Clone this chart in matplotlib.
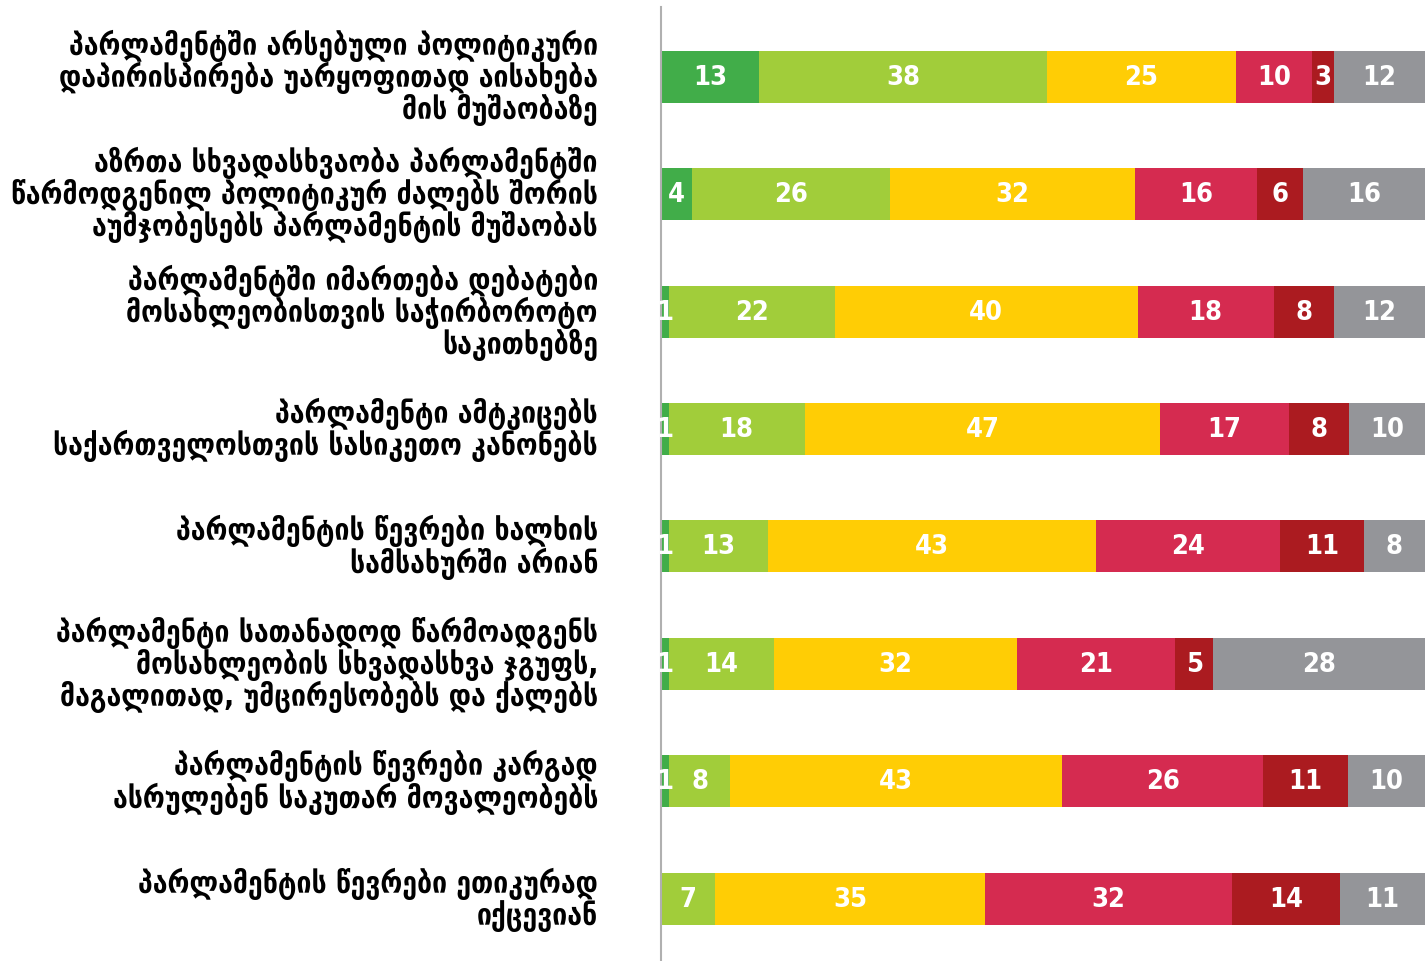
import matplotlib
matplotlib.use("Agg")
import matplotlib.pyplot as plt
import numpy as np

categories = [
    "პარლამენტში არსებული პოლიტიკური\nდაპირისპირება უარყოფითად აისახება\nმის მუშაობაზე",
    "აზრთა სხვადასხვაობა პარლამენტში\nწარმოდგენილ პოლიტიკურ ძალებს შორის\nაუმჯობესებს პარლამენტის მუშაობას",
    "პარლამენტში იმართება დებატები\nმოსახლეობისთვის საჭირბოროტო\nსაკითხებზე",
    "პარლამენტი ამტკიცებს\nსაქართველოსთვის სასიკეთო კანონებს",
    "პარლამენტის წევრები ხალხის\nსამსახურში არიან",
    "პარლამენტი სათანადოდ წარმოადგენს\nმოსახლეობის სხვადასხვა ჯგუფს,\nმაგალითად, უმცირესობებს და ქალებს",
    "პარლამენტის წევრები კარგად\nასრულებენ საკუთარ მოვალეობებს",
    "პარლამენტის წევრები ეთიკურად\nიქცევიან",
]

fully_agree    = [13, 4, 1, 1, 1, 1, 1, 0]
agree          = [38, 26, 22, 18, 13, 14, 8, 7]
neutral        = [25, 32, 40, 47, 43, 32, 43, 35]
disagree       = [10, 16, 18, 17, 24, 21, 26, 32]
fully_disagree = [3, 6, 8, 8, 11, 5, 11, 14]
dont_know      = [12, 16, 12, 10, 8, 28, 10, 11]

series = [fully_agree, agree, neutral, disagree, fully_disagree, dont_know]
colors = ["#41ad49", "#a1cd3a", "#ffcd05", "#d52b50", "#ab1b20", "#949599"]

fig = plt.figure(figsize=(14.25, 9.62), dpi=100)
ax = fig.add_axes([661/1425, 0, 1 - 661/1425, 1 - 8/962])

data = np.array(series, dtype=float)
totals = data.sum(axis=0)
y = np.arange(len(categories))
left = np.zeros(len(categories))
for vals, col in zip(data, colors):
    w = vals / totals * 100
    ax.barh(y, w, left=left, height=0.443, color=col, edgecolor="none")
    for i in range(len(categories)):
        if vals[i] > 0:
            ax.text(left[i] + w[i] / 2, y[i], f"{int(vals[i])}", ha="center", va="center",
                    color="white", fontsize=19.5, fontweight="bold",
                    family="DejaVu Sans", fontstretch="condensed")
    left += w

ax.set_xlim(0, 100)
ax.set_ylim(7.53, -0.594)
ax.set_xticks([])
ax.set_yticks([])
for s in ["top", "right", "bottom"]:
    ax.spines[s].set_visible(False)
ax.spines["left"].set_color("#b0b0b0")
ax.spines["left"].set_linewidth(1.5)

for i, lab in enumerate(categories):
    ax.text(-63/764*100, y[i], lab, ha="right", va="center", fontsize=21.3,
            fontweight="bold", family="DejaVu Sans", fontstretch="condensed",
            linespacing=1.0, color="black", multialignment="right")

fig.savefig("out.png", dpi=100)
